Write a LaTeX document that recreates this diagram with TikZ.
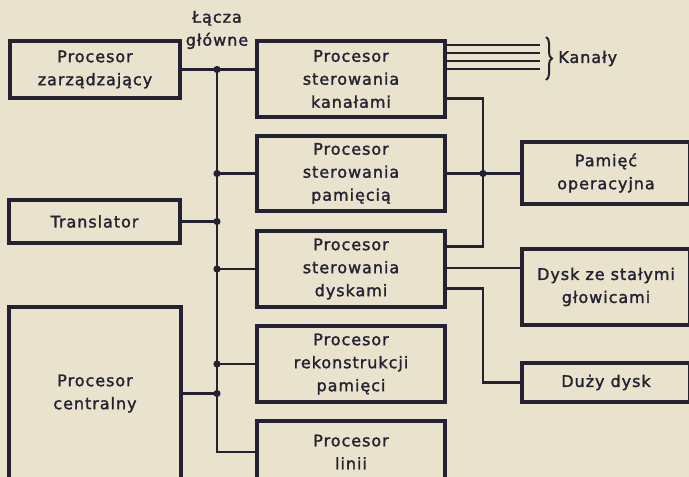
\documentclass[tikz,border=0pt]{standalone}
\usepackage{fontspec}
\setmainfont{DejaVu Sans}[LetterSpace=6, FakeBold=1.6]
\usepackage{tikz}
\usetikzlibrary{decorations.pathreplacing}

\definecolor{ink}{RGB}{34,34,50}
\definecolor{paper}{RGB}{233,226,204}
\newcommand{\napis}{\fontsize{16}{23}\selectfont}

\tikzset{
  blok/.style={draw=ink, line width=3.2pt, align=center, inner sep=0pt,
    text=ink, font=\napis},
  wire/.style={draw=ink, line width=2.4pt},
  dot/.style={fill=ink}
}

\begin{document}
\begin{tikzpicture}[x=1pt,y=-1pt]
      % tlo
      \fill[paper] (0,0) rectangle (689,477);
      \useasboundingbox (0,0) rectangle (689,477);
      % bloki po lewej
      \node[blok, minimum width=170pt, minimum height=57pt] (zarz) at (95,69.5) {Procesor\\zarządzający};
      \node[blok, minimum width=171pt, minimum height=43pt] (transl) at (94.5,221.5) {Translator};
      \node[blok, minimum width=172pt, minimum height=173pt] (central) at (95,393.5) {Procesor\\centralny};
      % procesory srodkowe
      \node[blok, minimum width=188pt, minimum height=76pt] (kanal) at (351,79) {Procesor\\sterowania\\kanałami};
      \node[blok, minimum width=188pt, minimum height=75pt] (pam) at (351,173.5) {Procesor\\sterowania\\pamięcią};
      \node[blok, minimum width=188pt, minimum height=76pt] (dysk) at (351,269) {Procesor\\sterowania\\dyskami};
      \node[blok, minimum width=188pt, minimum height=76pt] (rek) at (351,364) {Procesor\\rekonstrukcji\\pamięci};
      \node[blok, minimum width=188pt, minimum height=62pt] (lin) at (351,452) {Procesor\\linii};
      % bloki po prawej
      \node[blok, minimum width=168pt, minimum height=62pt] (pamop) at (606,173) {Pamięć\\operacyjna};
      \node[blok, minimum width=168pt, minimum height=76pt] (dyskst) at (606,287) {Dysk ze stałymi\\głowicami};
      \node[blok, minimum width=168pt, minimum height=39pt] (duzy) at (606,382.5) {Duży dysk};
      % napisy
      \node[align=center, text=ink, font=\napis] (lacza) at (217,30) {Łącza\\główne};
      % lacza glowne
      \coordinate (bus) at (217,0);
      \coordinate (rb) at (483,0);
      \coordinate (kend) at (540,0);
      \draw[wire] (zarz.east) -- (zarz.east -| kanal.west);
      \draw[wire] (zarz.east -| bus) -- (bus |- lin.west) -- (lin.west);
      \draw[wire] (transl.east) -- (transl.east -| bus);
      \draw[wire] (central.east) -- (central.east -| bus);
      \draw[wire] (pam.west) -- (pam.west -| bus);
      \draw[wire] (dysk.west) -- (dysk.west -| bus);
      \draw[wire] (rek.west) -- (rek.west -| bus);
      \foreach \n in {zarz.east,transl.east,central.east,pam.west,dysk.west,rek.west}
        \fill[dot] (\n -| bus) circle (3.6pt);
      % strona prawa
      \draw[wire] ([yshift=20pt]kanal.south east) -- ([yshift=20pt]kanal.south east -| rb)
        -- ([yshift=-17pt]dysk.north east -| rb) -- ([yshift=-17pt]dysk.north east);
      \draw[wire] (pam.east) -- (pam.east -| pamop.west);
      \fill[dot] (pam.east -| rb) circle (3.6pt);
      \draw[wire] ([yshift=1pt]dysk.east) -- ([yshift=1pt]dysk.east -| dyskst.west);
      \draw[wire] ([yshift=20pt]dysk.south east) -- ([yshift=20pt]dysk.south east -| rb)
        -- (duzy.west -| rb) -- (duzy.west);
      % kanaly
      \foreach \d in {6,14,22,30}
        \draw[wire, line width=2pt] ([yshift=-\d pt]kanal.north east) -- ([yshift=-\d pt]kanal.north east -| kend);
      \draw[ink, line width=2pt, decorate, decoration={brace, amplitude=6pt}]
        (546,37) -- (546,80) node[midway, right=8pt, text=ink, font=\napis] (kanaly) {Kanały};
    \end{tikzpicture}
\end{document}
